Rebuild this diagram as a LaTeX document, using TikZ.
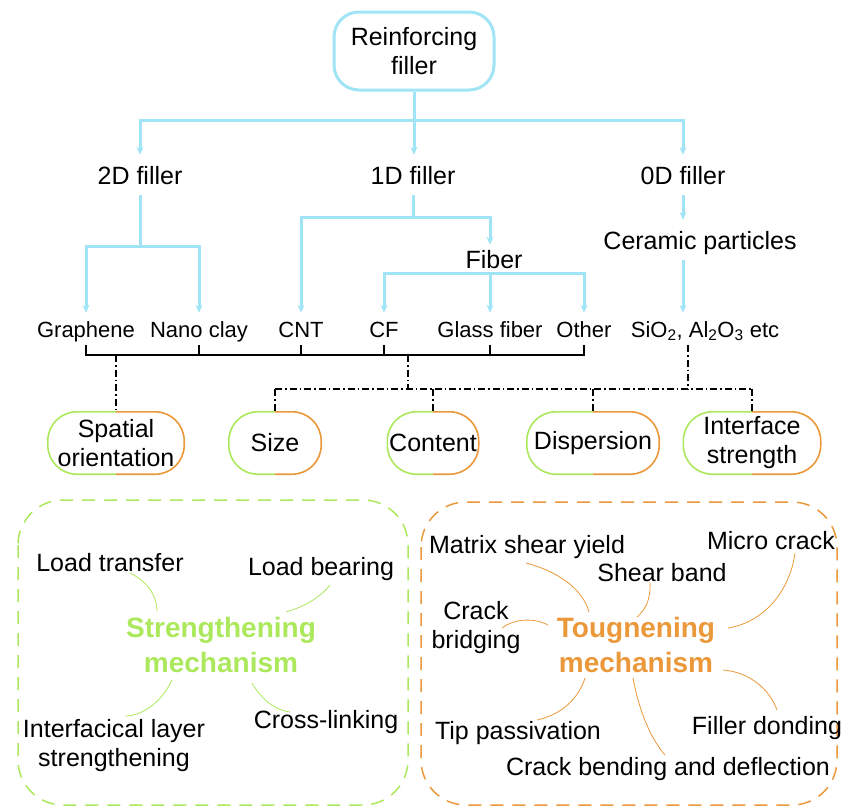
\documentclass[tikz,border=0pt]{standalone}
\usepackage{fontspec}
\setmainfont{Liberation Sans}
\usetikzlibrary{arrows.meta}
\definecolor{fillblue}{RGB}{160,228,246}
\definecolor{strgreen}{RGB}{172,232,92}
\definecolor{tghorange}{RGB}{234,152,58}

\begin{document}
\begin{tikzpicture}[%
      x=1pt, y=-1pt,
      >={Stealth[length=8pt,width=7pt]},
      every node/.style={font=\fontsize{25}{29}\selectfont},
      tree/.style={color=fillblue, line width=3pt},
      brk/.style={color=black, line width=1.3pt},
      dd/.style={color=black, line width=1.3pt, dash pattern=on 7pt off 3pt on 1.5pt off 3pt},
      lbl/.style={inner xsep=0pt, inner ysep=11pt, text height=18pt, text depth=0pt},
      sub/.style={font=\fontsize{22}{26}\selectfont, inner xsep=0pt, inner ysep=8pt, text height=16pt, text depth=0pt},
      txt/.style={inner sep=0pt, text height=18pt, text depth=0pt},
      two/.style={inner sep=0pt, align=center},
      mech/.style={inner sep=0pt, align=center, font=\bfseries\fontsize{28}{35}\selectfont},
      pill/.style={minimum height=62pt, inner sep=0pt, align=center},
      gline/.style={draw=strgreen, line width=1.6pt, rounded corners=29pt},
      oline/.style={draw=tghorange, line width=1.6pt, rounded corners=29pt},
      gframe/.style={color=strgreen, line width=1.5pt, dash pattern=on 13pt off 9pt, rounded corners=45pt},
      oframe/.style={color=tghorange, line width=1.5pt, dash pattern=on 13pt off 9pt, rounded corners=45pt},
      gcurve/.style={color=strgreen, line width=0.8pt},
      ocurve/.style={color=tghorange, line width=0.8pt},
      ]
      \useasboundingbox (0,0) rectangle (844,807);

      % filler tree
      \node[draw=fillblue, line width=3pt, rounded corners=25pt, minimum width=160pt,
            minimum height=78pt, align=center, inner sep=0pt] (root) at (414,51) {Reinforcing\\filler};
      \node[lbl] (f2d) at (140,175) {2D filler};
      \node[lbl] (f1d) at (413,175) {1D filler};
      \node[lbl] (f0d) at (683,175) {0D filler};
      \node[lbl] (cer) at (700,240) {Ceramic particles};
      \node[lbl, inner ysep=5pt] (fib) at (494,259) {Fiber};

      \node[sub] (gra) at (86,329) {Graphene};
      \node[sub] (nan) at (199,329) {Nano clay};
      \node[sub] (cnt) at (301,329) {CNT};
      \node[sub] (cf) at (384,329) {CF};
      \node[sub] (gla) at (490,329) {Glass fiber};
      \node[sub] (oth) at (584,329) {Other};
      \node[sub] (sio) at (705,329) {SiO\textsubscript{2}, Al\textsubscript{2}O\textsubscript{3} etc};

      \coordinate (j0) at (414,120);
      \coordinate (j1) at (413,217);
      \coordinate (j2) at (140,246);
      \coordinate (jf) at (490,273);
      \draw[tree,->] (root.south) -- (root.south |- f1d.north);
      \draw[tree,<->] (f2d.north) |- (j0) -| (f0d.north);
      \draw[tree] (f2d.south) -- (j2);
      \draw[tree,<->] (gra.north) |- (j2) -| (nan.north);
      \draw[tree] (f1d.south) -- (j1);
      \draw[tree,<->] (cnt.north) |- (j1) -| (gla.north |- fib.north);
      \draw[tree,<->] (cf.north) |- (jf) -| (oth.north);
      \draw[tree,->] (jf) -- (gla.north);
      \draw[tree,->] (f0d.south) -- (f0d.south |- cer.north);
      \draw[tree,->] (cer.south -| f0d) -- (f0d |- sio.north);

      % factors
      \node[pill, minimum width=136pt] (spat) at (116,443) {Spatial\\orientation};
      \node[pill, minimum width=92pt] (size) at (275,443) {Size};
      \node[pill, minimum width=91pt] (cont) at (433,443) {Content};
      \node[pill, minimum width=132pt] (disp) at (593,443) {Dispersion};
      \node[pill, minimum width=137pt] (intf) at (752,443) {Interface\\strength};
      \foreach \n in {spat,size,cont,disp,intf} {
        \draw[gline] (\n.north) -- (\n.north west) -- (\n.south west) -- (\n.south);
        \draw[oline] (\n.north) -- (\n.north east) -- (\n.south east) -- (\n.south);
      }

      \coordinate (bb) at (0,355);
      \coordinate (dl) at (408,389);
      \coordinate (dr) at (688,389);
      \draw[brk] (gra.south) -- (gra.south |- bb) -- (oth.south |- bb) -- (oth.south);
      \foreach \n in {nan,cnt,cf,gla} \draw[brk] (\n.south) -- (\n.south |- bb);
      \draw[dd] (spat.north |- bb) -- (spat.north);
      \draw[dd] (dl |- bb) -- (dl);
      \draw[dd] (dr |- sio.south) -- (dr);
      \draw[dd] (size.north |- dl) -- (intf.north |- dl);
      \foreach \n in {size,cont,disp,intf} \draw[dd] (\n.north |- dl) -- (\n.north);

      % strengthening mechanism
      \draw[gframe] (18,500) rectangle (408,805);
      \node[mech, text=strgreen] (strg) at (221,645) {Strengthening\\mechanism};
      \node[txt] (ldtr) at (110,562) {Load transfer};
      \node[txt] (ldbr) at (321,566) {Load bearing};
      \node[txt] (crsl) at (326,719) {Cross-linking};
      \node[two] (intl) at (114,746) {Interfacical layer\\strengthening};
      \draw[gcurve] ([shift={(20,11)}]ldtr.center) .. controls +(20,10) and +(0,-13) .. ([shift={(-64,-34)}]strg.center);
      \draw[gcurve] ([shift={(9,19)}]ldbr.center) .. controls +(-12,15) and +(14,-4) .. ([shift={(65,-33)}]strg.center);
      \draw[gcurve] ([shift={(-49,35)}]strg.center) .. controls +(-12,25) and +(15,0) .. ([shift={(11,-30)}]intl.center);
      \draw[gcurve] ([shift={(31,38)}]strg.center) .. controls +(10,17) and +(-15,-2) .. ([shift={(-36,-7)}]crsl.center);

      % toughening mechanism
      \draw[oframe] (421,502) rectangle (837,805);
      \node[mech, text=tghorange] (tgh) at (636,645) {Tougnening\\mechanism};
      \node[txt] (msy) at (527,544) {Matrix shear yield};
      \node[txt] (mcr) at (771,540) {Micro crack};
      \node[txt] (shb) at (662,572) {Shear band};
      \node[two] (crb) at (476,628) {Crack\\bridging};
      \node[txt] (tip) at (518,730) {Tip passivation};
      \node[txt] (fld) at (767,725) {Filler donding};
      \node[txt] (cbd) at (668,766) {Crack bending and deflection};
      \draw[ocurve] ([shift={(-1,19)}]msy.center) .. controls +(34,9) and +(-6,-22) .. ([shift={(-47,-33)}]tgh.center);
      \draw[ocurve] ([shift={(-12,10)}]shb.center) .. controls +(1,18) and +(8,-7) .. ([shift={(1,-28)}]tgh.center);
      \draw[ocurve] ([shift={(24,13)}]mcr.center) .. controls +(-5,37) and +(37,-6) .. ([shift={(92,-17)}]tgh.center);
      \draw[ocurve] ([shift={(26,0)}]crb.center) .. controls +(13,-10) and +(-13,-7) .. ([shift={(-88,-20)}]tgh.center);
      \draw[ocurve] ([shift={(87,25)}]tgh.center) .. controls +(27,2) and +(-7,-20) .. ([shift={(10,-15)}]fld.center);
      \draw[ocurve] ([shift={(-51,33)}]tgh.center) .. controls +(-7,22) and +(23,-5) .. ([shift={(19,-10)}]tip.center);
      \draw[ocurve] ([shift={(-3,33)}]tgh.center) .. controls +(7,37) and +(-13,-15) .. ([shift={(-3,-11)}]cbd.center);
\end{tikzpicture}
\end{document}
